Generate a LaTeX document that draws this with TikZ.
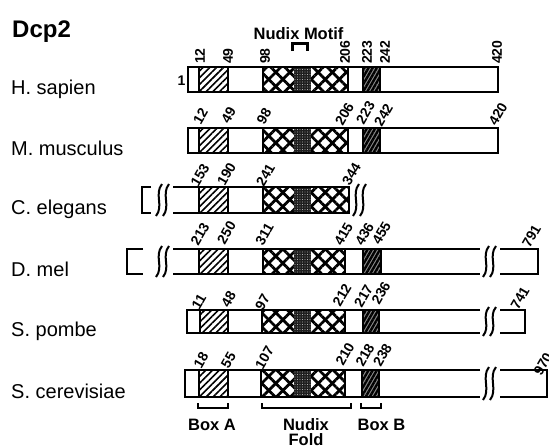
\documentclass[tikz,border=0pt]{standalone}
\usepackage{fontspec}
\setmainfont{Liberation Sans}
\usetikzlibrary{patterns.meta}
\newcommand\numfont{\bfseries\fontsize{14}{14}\selectfont}
\newcommand\protcore[6]{%
  \path[hatchfill] (#3,#1) rectangle (#4,#2);
  \draw[sep] (#3,#1) -- (#3,#2) (#4,#1) -- (#4,#2);
  \path[xa] (#5,#1) rectangle (#6,#2);
  \path[xb] (#5,#1) rectangle (#6,#2);
  \fill[black!88] (294,#1) rectangle (311,#2);
  \path[dotsfill] (294,#1) rectangle (311,#2);
  \draw[sep] (#5,#1) -- (#5,#2) (#6,#1) -- (#6,#2);
}
\newcommand\protboxb[4]{%
  \fill[black!45] (#3,#1) rectangle (#4,#2);
  \path[boxbfill] (#3,#1) rectangle (#4,#2);
  \draw[sep] (#3,#1) -- (#3,#2) (#4,#1) -- (#4,#2);
}
\newcommand\protwave[3]{%
  \draw[wave] ({#1+3},{#2-3}) .. controls ({#1-5},{#2+7}) and ({#1+5},{#3-7}) .. ({#1-3},{#3+3});
}
\begin{document}
\begin{tikzpicture}[x=1pt,y=-1pt,
  bar/.style={line width=2.5pt, line join=miter},
  sep/.style={line width=2.2pt},
  wave/.style={line width=2pt},
  brk/.style={line width=2.5pt},
  hatchfill/.style={pattern={Lines[angle=45,distance=4.8pt,line width=1.6pt]}},
  xa/.style={pattern={Lines[angle=45,distance=10pt,line width=2.8pt]}},
  xb/.style={pattern={Lines[angle=-45,distance=10pt,line width=2.8pt]}},
  boxbfill/.style={pattern={Lines[angle=60,distance=3.6pt,line width=2.4pt]}},
  dotsfill/.style={pattern={Dots[distance=2.5pt,radius=0.45pt]}, pattern color=white},
  num/.style={font=\numfont, inner sep=0pt},
  species/.style={font=\fontsize{20}{20}\selectfont, anchor=base west, inner sep=0pt},
  lab/.style={font=\bfseries\fontsize{16.5}{16.5}\selectfont, anchor=base, inner sep=0pt}]
\useasboundingbox (0,0) rectangle (549,447);

% titles
\node[font=\bfseries\fontsize{24}{24}\selectfont, anchor=base west, inner sep=0pt] (dcp) at (12,37) {Dcp2};
\node[lab] (motif) at (298.5,39) {Nudix Motif};
\draw[line width=3pt] (292,51) -- (292,43) -- (307,43) -- (307,51);

% species labels
\node[species] (hs) at (11,94) {H. sapien};
\node[species] (mm) at (11,155) {M. musculus};
\node[species] (ce) at (11,214.5) {C. elegans};
\node[species] (dm) at (11,276) {D. mel};
\node[species] (sp) at (11,336) {S. pombe};
\node[species] (sc) at (11,398) {S. cerevisiae};

% Row 1: H. sapien
\protcore{67}{92}{199}{228}{263}{348}
\protboxb{67}{92}{363}{380}
\draw[bar] (188,67) rectangle (498,92);
\node[num] (one) at (181.5,80.5) {1};
\foreach \t/\x [count=\i] in {12/200,49/228,98/265,206/345,223/367,242/385,420/497}
  \node[num, rotate=90, anchor=west] (ra\i) at (\x,64) {\t};

% Row 2: M. musculus
\protcore{128}{153}{199}{228}{263}{348}
\protboxb{128}{153}{363}{380}
\draw[bar] (188,128) rectangle (498,153);
\foreach \t/\x/\y [count=\i] in {12/200.5/116.5,49/228.5/115,98/264/116,206/344.5/114,223/365.5/112.5,242/383.5/115,420/498/114}
  \node[num, rotate=60] (rb\i) at (\x,\y) {\t};

% Row 3: C. elegans
\protcore{187}{213}{199}{228}{263}{349}
\draw[bar] (173,187) -- (349,187) -- (349,213) -- (173,213);
\draw[bar] (151,187) -- (142,187) -- (142,213) -- (151,213);
\protwave{159}{187}{213}
\protwave{166}{187}{213}
\protwave{356}{187}{213}
\protwave{363}{187}{213}
\foreach \t/\x/\y [count=\i] in {153/200/175,190/226.5/174,241/265.5/175,344/351.5/174}
  \node[num, rotate=60] (rc\i) at (\x,\y) {\t};

% Row 4: D. mel
\protcore{249}{274}{199}{228}{263}{345}
\protboxb{249}{274}{363}{381}
\draw[bar] (173,249) -- (480,249) (173,274) -- (480,274);
\draw[bar] (143,249) -- (127,249) -- (127,274) -- (143,274);
\draw[bar] (500,249) -- (538,249) -- (538,274) -- (500,274);
\protwave{159}{249}{274}
\protwave{166}{249}{274}
\protwave{486}{249}{274}
\protwave{493}{249}{274}
\foreach \t/\x/\y [count=\i] in {213/200/234,250/226.5/232.5,311/264.5/234,415/343.5/234,436/364.5/234,455/381.5/233,791/531.5/236}
  \node[num, rotate=60] (rd\i) at (\x,\y) {\t};

% Row 5: S. pombe
\protcore{310}{333}{200}{228}{262}{345}
\protboxb{310}{333}{363}{379}
\draw[bar] (480,310) -- (187,310) -- (187,333) -- (480,333);
\draw[bar] (500,310) -- (525,310) -- (525,333) -- (500,333);
\protwave{486}{310}{333}
\protwave{493}{310}{333}
\foreach \t/\x/\y [count=\i] in {11/199/302,48/228.5/299.5,97/262.5/302,212/342/295,217/363.5/296,236/381/293,741/520/298}
  \node[num, rotate=60] (re\i) at (\x,\y) {\t};

% Row 6: S. cerevisiae
\protcore{370}{397}{199}{228}{261}{345}
\protboxb{370}{397}{362}{379}
\draw[bar] (480,370) -- (185,370) -- (185,397) -- (480,397);
\draw[bar] (500,370) -- (547,370) -- (547,397) -- (500,397);
\protwave{486}{370}{397}
\protwave{493}{370}{397}
\foreach \t/\x/\y [count=\i] in {18/201/360,55/228.5/360.5,107/264.5/357.5,210/345/354,218/365/355,238/382.5/355,970/543/364}
  \node[num, rotate=60] (rf\i) at (\x,\y) {\t};

% bottom brackets
\draw[brk] (198,403) -- (198,408) -- (228,408) -- (228,403);
\draw[brk] (262,403) -- (262,408) -- (351,408) -- (351,403);
\draw[brk] (361,403) -- (361,408) -- (381,408) -- (381,403);
\node[lab] (boxa) at (212,430) {Box A};
\node[lab] (nudix) at (306,430) {Nudix};
\node[lab] (fold) at (306,445) {Fold};
\node[lab] (boxb) at (381.5,430) {Box B};
\end{tikzpicture}
\end{document}
